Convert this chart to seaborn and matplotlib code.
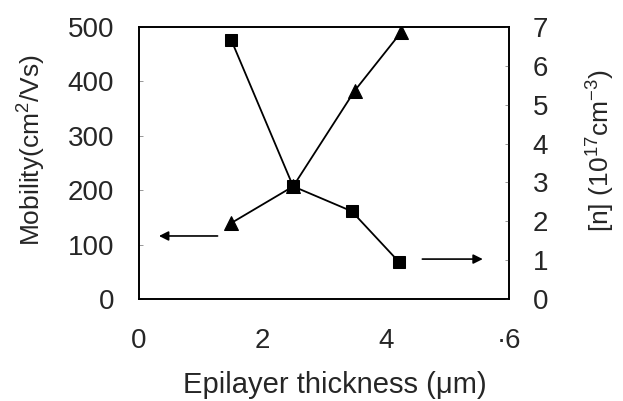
import matplotlib
matplotlib.use('Agg')
import matplotlib.pyplot as plt
import seaborn as sns

# data
thickness = [1.5, 2.5, 3.5, 4.25]
mobility = [140, 207, 383, 490]
thickness_n = [1.5, 2.5, 3.45, 4.22]
carrier_n = [6.65, 2.9, 2.26, 0.95]

x_ticks = [0, 2, 4, 6]
x_ticklabels = ['0', '2', '4', '·6']
mob_ticks = [0, 100, 200, 300, 400, 500]
n_ticks = [0, 1, 2, 3, 4, 5, 6, 7]

sns.set_style('white')
plt.rcParams['font.family'] = ['Liberation Sans', 'DejaVu Sans']
plt.rcParams['mathtext.fontset'] = 'custom'
plt.rcParams['mathtext.rm'] = 'Liberation Sans'
plt.rcParams['mathtext.it'] = 'Liberation Sans'

fig = plt.figure(figsize=(6.23, 4.01), dpi=100)
ax = fig.add_axes([0.223, 0.254, 0.594, 0.679])
ax2 = ax.twinx()

sns.lineplot(x=thickness, y=mobility, marker='^', markersize=10, color='black',
             linewidth=1.3, markeredgecolor='black', ax=ax)
sns.lineplot(x=thickness_n, y=carrier_n, marker='s', markersize=8.5, color='black',
             linewidth=1.3, markeredgecolor='black', ax=ax2)

ax.set_xlim(0, 6)
ax.set_ylim(0, 500)
ax2.set_ylim(0, 7)
ax.set_xticks(x_ticks)
ax.set_xticklabels(x_ticklabels)
ax.set_yticks(mob_ticks)
ax2.set_yticks(n_ticks)

for a in (ax, ax2):
    a.tick_params(direction='in', length=3, width=0.6, color='#888888', labelsize=20)
    for s in a.spines.values():
        s.set_color('black')
        s.set_linewidth(1.2)
ax.tick_params(axis='y', pad=18)
ax2.tick_params(axis='y', pad=17)
ax.tick_params(axis='x', pad=21)

ax.set_xlabel('Epilayer thickness (μm)', fontsize=21)
ax.set_ylabel('Mobility(cm$^2$/Vs)', fontsize=19)
ax2.set_ylabel('[n] (10$^{17}$cm$^{-3}$)', fontsize=19, rotation=90)
ax.xaxis.set_label_coords(0.53, -0.265)
ax.yaxis.set_label_coords(-0.246, 0.548)
ax2.yaxis.set_label_coords(1.205, 0.544)

# arrows pointing to the axis each curve belongs to
ax.annotate('', xy=(0.28, 116), xytext=(1.32, 116),
            arrowprops=dict(arrowstyle='-|>', color='black', lw=1.2, mutation_scale=14))
ax2.annotate('', xy=(5.62, 1.03), xytext=(4.55, 1.03),
             arrowprops=dict(arrowstyle='-|>', color='black', lw=1.2, mutation_scale=14))

fig.savefig('out.png', dpi=100)
